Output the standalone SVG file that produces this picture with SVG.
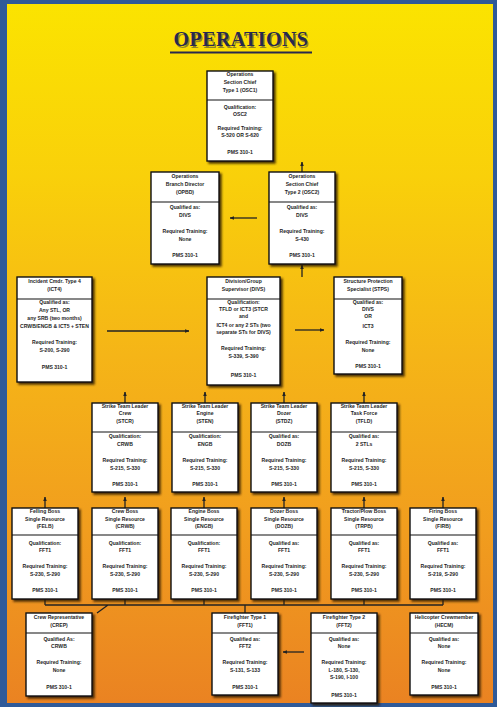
<svg xmlns="http://www.w3.org/2000/svg" width="497" height="707" viewBox="0 0 497 707">
<defs>
<linearGradient id="bg" x1="0" y1="0" x2="0" y2="1">
<stop offset="0" stop-color="#FBE400"/>
<stop offset="0.25" stop-color="#F9D00A"/>
<stop offset="0.5" stop-color="#F5B517"/>
<stop offset="0.75" stop-color="#F19D1E"/>
<stop offset="1" stop-color="#EA8222"/>
</linearGradient>
<filter id="ds" x="-10%" y="-10%" width="130%" height="130%">
<feDropShadow dx="2" dy="2" stdDeviation="0.8" flood-color="#2a1800" flood-opacity="0.85"/>
</filter>
<marker id="ah" viewBox="0 0 10 10" refX="9" refY="5" markerWidth="4.5" markerHeight="4.5" orient="auto" markerUnits="userSpaceOnUse">
<path d="M0,1 L10,5 L0,9 z" fill="#222"/>
</marker>
<style>
.box{fill:#fff;stroke:#111;stroke-width:1.4;filter:url(#ds)}
.div{stroke:#111;stroke-width:1.2}
text{font-family:"Liberation Sans",Arial,sans-serif;font-size:5.1px;font-weight:bold;fill:#1e1e1e;text-anchor:middle}
.c{stroke:#222;stroke-width:1.3;fill:none}
.a{stroke:#222;stroke-width:1.3;fill:none;marker-end:url(#ah)}
.title{font-family:"Liberation Serif","Times New Roman",serif;font-size:20px;font-weight:bold;fill:#28294E;letter-spacing:0.4px}
</style>
</defs>
<rect x="0" y="0" width="497" height="707" fill="url(#bg)"/>
<rect x="2" y="2" width="493" height="703" fill="none" stroke="#2F5A99" stroke-width="4"/>
<rect x="0" y="0" width="7" height="707" fill="#2F5A99"/>

<g id="title">
<text class="title" x="241" y="46" fill="#5a4a20" opacity="0.5" transform="translate(1.5,1.5)">OPERATIONS</text>
<text class="title" x="241" y="46">OPERATIONS</text>
<line x1="170" y1="52.5" x2="312" y2="52.5" stroke="#28294E" stroke-width="2"/>
</g>

<g id="connectors">
<line class="a" x1="302" y1="172" x2="302" y2="162"/>
<line class="a" x1="257" y1="218" x2="230" y2="218"/>
<line class="a" x1="302" y1="277" x2="302" y2="265"/>
<line class="a" x1="107" y1="331" x2="189" y2="331"/>
<line class="a" x1="295" y1="330" x2="324" y2="330"/>
<line class="a" x1="125" y1="403" x2="125" y2="392"/>
<line class="a" x1="205" y1="403" x2="205" y2="392"/>
<line class="a" x1="284" y1="403" x2="284" y2="392"/>
<line class="a" x1="364" y1="403" x2="364" y2="392"/>
<line class="a" x1="45" y1="508" x2="45" y2="497"/>
<line class="a" x1="125" y1="508" x2="125" y2="497"/>
<line class="a" x1="204" y1="508" x2="204" y2="497"/>
<line class="a" x1="284" y1="508" x2="284" y2="497"/>
<line class="a" x1="364" y1="508" x2="364" y2="497"/>
<line class="a" x1="443" y1="508" x2="443" y2="497"/>
<path class="c" d="M45,599 V605 M125,599 V605 M204,599 V605 M284,599 V605 M364,599 V605 M443,599 V605 M45,605 H443 M245,605 V613 M108,605 L97,613"/>
<line class="a" x1="304" y1="652" x2="283" y2="652"/>
</g>

<g id="osc1">
<rect class="box" x="207" y="71" width="66" height="90"/>
<line class="div" x1="207" y1="100" x2="273" y2="100"/>
<text x="240" y="76">Operations</text>
<text x="240" y="84">Section Chief</text>
<text x="240" y="92">Type 1 (OSC1)</text>
<text x="240" y="109">Qualification:</text>
<text x="240" y="116">OSC2</text>
<text x="240" y="130">Required Training:</text>
<text x="240" y="137">S-520 OR S-620</text>
<text x="240" y="154">PMS 310-1</text>
</g>

<g id="opbd">
<rect class="box" x="151" y="172" width="68" height="92"/>
<line class="div" x1="151" y1="202" x2="219" y2="202"/>
<text x="185" y="178">Operations</text>
<text x="185" y="186">Branch Director</text>
<text x="185" y="194">(OPBD)</text>
<text x="185" y="209">Qualified as:</text>
<text x="185" y="217">DIVS</text>
<text x="185" y="233">Required Training:</text>
<text x="185" y="241">None</text>
<text x="185" y="257">PMS 310-1</text>
</g>

<g id="osc2">
<rect class="box" x="269" y="172" width="66" height="92"/>
<line class="div" x1="269" y1="202" x2="335" y2="202"/>
<text x="302" y="178">Operations</text>
<text x="302" y="186">Section Chief</text>
<text x="302" y="194">Type 2 (OSC2)</text>
<text x="302" y="209">Qualified as:</text>
<text x="302" y="217">DIVS</text>
<text x="302" y="233">Required Training:</text>
<text x="302" y="241">S-430</text>
<text x="302" y="257">PMS 310-1</text>
</g>

<g id="ict4">
<rect class="box" x="17" y="277" width="75" height="105"/>
<line class="div" x1="17" y1="299" x2="92" y2="299"/>
<text x="54.5" y="283">Incident Cmdr. Type 4</text>
<text x="54.5" y="291">(ICT4)</text>
<text x="54.5" y="304">Qualified as:</text>
<text x="54.5" y="312">Any STL, OR</text>
<text x="54.5" y="320">any SRB (two months)</text>
<text x="54.5" y="328">CRWB/ENGB &amp; ICT5 + STEN</text>
<text x="54.5" y="344">Required Training:</text>
<text x="54.5" y="352">S-200, S-290</text>
<text x="54.5" y="369">PMS 310-1</text>
</g>

<g id="divs">
<rect class="box" x="207" y="277" width="73" height="108"/>
<line class="div" x1="207" y1="299" x2="280" y2="299"/>
<text x="243.5" y="283">Division/Group</text>
<text x="243.5" y="291">Supervisor (DIVS)</text>
<text x="243.5" y="304">Qualification:</text>
<text x="243.5" y="311">TFLD or ICT3 (STCR</text>
<text x="243.5" y="318">and</text>
<text x="243.5" y="327">ICT4 or any 2 STs (two</text>
<text x="243.5" y="334">separate STs for DIVS)</text>
<text x="243.5" y="350">Required Training:</text>
<text x="243.5" y="358">S-339, S-390</text>
<text x="243.5" y="377">PMS 310-1</text>
</g>

<g id="stps">
<rect class="box" x="334" y="277" width="68" height="97"/>
<line class="div" x1="334" y1="299" x2="402" y2="299"/>
<text x="368" y="283">Structure Protection</text>
<text x="368" y="291">Specialist (STPS)</text>
<text x="368" y="304">Qualified as:</text>
<text x="368" y="311">DIVS</text>
<text x="368" y="318">OR</text>
<text x="368" y="328">ICT3</text>
<text x="368" y="344">Required Training:</text>
<text x="368" y="352">None</text>
<text x="368" y="368">PMS 310-1</text>
</g>

<g id="stcr">
<rect class="box" x="92" y="403" width="66" height="89"/>
<line class="div" x1="92" y1="432" x2="158" y2="432"/>
<text x="125" y="408">Strike Team Leader</text>
<text x="125" y="415">Crew</text>
<text x="125" y="423">(STCR)</text>
<text x="125" y="438">Qualification:</text>
<text x="125" y="446">CRWB</text>
<text x="125" y="462">Required Training:</text>
<text x="125" y="470">S-215, S-330</text>
<text x="125" y="486">PMS 310-1</text>
</g>

<g id="sten">
<rect class="box" x="172" y="403" width="66" height="89"/>
<line class="div" x1="172" y1="432" x2="238" y2="432"/>
<text x="205" y="408">Strike Team Leader</text>
<text x="205" y="415">Engine</text>
<text x="205" y="423">(STEN)</text>
<text x="205" y="438">Qualification:</text>
<text x="205" y="446">ENGB</text>
<text x="205" y="462">Required Training:</text>
<text x="205" y="470">S-215, S-330</text>
<text x="205" y="486">PMS 310-1</text>
</g>

<g id="stdz">
<rect class="box" x="251" y="403" width="66" height="89"/>
<line class="div" x1="251" y1="432" x2="317" y2="432"/>
<text x="284" y="408">Strike Team Leader</text>
<text x="284" y="415">Dozer</text>
<text x="284" y="423">(STDZ)</text>
<text x="284" y="438">Qualified as:</text>
<text x="284" y="446">DOZB</text>
<text x="284" y="462">Required Training:</text>
<text x="284" y="470">S-215, S-330</text>
<text x="284" y="486">PMS 310-1</text>
</g>

<g id="tfld">
<rect class="box" x="331" y="403" width="66" height="89"/>
<line class="div" x1="331" y1="432" x2="397" y2="432"/>
<text x="364" y="408">Strike Team Leader</text>
<text x="364" y="415">Task Force</text>
<text x="364" y="423">(TFLD)</text>
<text x="364" y="438">Qualified as:</text>
<text x="364" y="446">2 STLs</text>
<text x="364" y="462">Required Training:</text>
<text x="364" y="470">S-215, S-330</text>
<text x="364" y="486">PMS 310-1</text>
</g>

<g id="felb">
<rect class="box" x="12" y="508" width="66" height="91"/>
<line class="div" x1="12" y1="535" x2="78" y2="535"/>
<text x="45" y="513">Felling Boss</text>
<text x="45" y="521">Single Resource</text>
<text x="45" y="528">(FELB)</text>
<text x="45" y="545">Qualification:</text>
<text x="45" y="552">FFT1</text>
<text x="45" y="568">Required Training:</text>
<text x="45" y="576">S-230, S-290</text>
<text x="45" y="592">PMS 310-1</text>
</g>

<g id="crwb">
<rect class="box" x="92" y="508" width="66" height="91"/>
<line class="div" x1="92" y1="535" x2="158" y2="535"/>
<text x="125" y="513">Crew Boss</text>
<text x="125" y="521">Single Resource</text>
<text x="125" y="528">(CRWB)</text>
<text x="125" y="545">Qualification:</text>
<text x="125" y="552">FFT1</text>
<text x="125" y="568">Required Training:</text>
<text x="125" y="576">S-230, S-290</text>
<text x="125" y="592">PMS 310-1</text>
</g>

<g id="engb">
<rect class="box" x="171" y="508" width="66" height="91"/>
<line class="div" x1="171" y1="535" x2="237" y2="535"/>
<text x="204" y="513">Engine Boss</text>
<text x="204" y="521">Single Resource</text>
<text x="204" y="528">(ENGB)</text>
<text x="204" y="545">Qualification:</text>
<text x="204" y="552">FFT1</text>
<text x="204" y="568">Required Training:</text>
<text x="204" y="576">S-230, S-290</text>
<text x="204" y="592">PMS 310-1</text>
</g>

<g id="dozb">
<rect class="box" x="251" y="508" width="66" height="91"/>
<line class="div" x1="251" y1="535" x2="317" y2="535"/>
<text x="284" y="513">Dozer Boss</text>
<text x="284" y="521">Single Resource</text>
<text x="284" y="528">(DOZB)</text>
<text x="284" y="545">Qualified as:</text>
<text x="284" y="552">FFT1</text>
<text x="284" y="568">Required Training:</text>
<text x="284" y="576">S-230, S-290</text>
<text x="284" y="592">PMS 310-1</text>
</g>

<g id="trpb">
<rect class="box" x="331" y="508" width="66" height="91"/>
<line class="div" x1="331" y1="535" x2="397" y2="535"/>
<text x="364" y="513">Tractor/Plow Boss</text>
<text x="364" y="521">Single Resource</text>
<text x="364" y="528">(TRPB)</text>
<text x="364" y="545">Qualified as:</text>
<text x="364" y="552">FFT1</text>
<text x="364" y="568">Required Training:</text>
<text x="364" y="576">S-230, S-290</text>
<text x="364" y="592">PMS 310-1</text>
</g>

<g id="firb">
<rect class="box" x="410" y="508" width="66" height="91"/>
<line class="div" x1="410" y1="535" x2="476" y2="535"/>
<text x="443" y="513">Firing Boss</text>
<text x="443" y="521">Single Resource</text>
<text x="443" y="528">(FIRB)</text>
<text x="443" y="545">Qualified as:</text>
<text x="443" y="552">FFT1</text>
<text x="443" y="568">Required Training:</text>
<text x="443" y="576">S-219, S-290</text>
<text x="443" y="592">PMS 310-1</text>
</g>

<g id="crep">
<rect class="box" x="26" y="613" width="66" height="83"/>
<line class="div" x1="26" y1="633" x2="92" y2="633"/>
<text x="59" y="619">Crew Representative</text>
<text x="59" y="627">(CREP)</text>
<text x="59" y="641">Qualified As:</text>
<text x="59" y="648">CRWB</text>
<text x="59" y="664">Required Training:</text>
<text x="59" y="672">None</text>
<text x="59" y="689">PMS 310-1</text>
</g>

<g id="fft1">
<rect class="box" x="212" y="613" width="66" height="82"/>
<line class="div" x1="212" y1="633" x2="278" y2="633"/>
<text x="245" y="619">Firefighter Type 1</text>
<text x="245" y="627">(FFT1)</text>
<text x="245" y="641">Qualified as:</text>
<text x="245" y="648">FFT2</text>
<text x="245" y="664">Required Training:</text>
<text x="245" y="672">S-131, S-133</text>
<text x="245" y="689">PMS 310-1</text>
</g>

<g id="fft2">
<rect class="box" x="311" y="613" width="66" height="90"/>
<line class="div" x1="311" y1="633" x2="377" y2="633"/>
<text x="344" y="619">Firefighter Type 2</text>
<text x="344" y="627">(FFT2)</text>
<text x="344" y="641">Qualified as:</text>
<text x="344" y="648">None</text>
<text x="344" y="664">Required Training:</text>
<text x="344" y="672">L-180, S-130,</text>
<text x="344" y="679">S-190, I-100</text>
<text x="344" y="697">PMS 310-1</text>
</g>

<g id="hecm">
<rect class="box" x="410" y="613" width="68" height="82"/>
<line class="div" x1="410" y1="633" x2="478" y2="633"/>
<text x="444" y="619">Helicopter Crewmember</text>
<text x="444" y="627">(HECM)</text>
<text x="444" y="641">Qualified as:</text>
<text x="444" y="648">None</text>
<text x="444" y="664">Required Training:</text>
<text x="444" y="672">None</text>
<text x="444" y="689">PMS 310-1</text>
</g>
</svg>
